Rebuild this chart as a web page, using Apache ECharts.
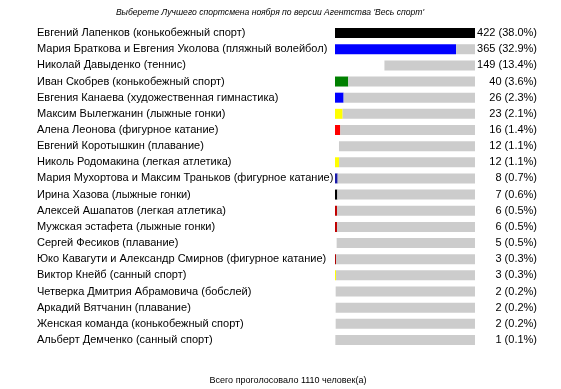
<!DOCTYPE html>
<html><head><meta charset="utf-8">
<script src="https://cdn.jsdelivr.net/npm/echarts@6/dist/echarts.min.js"></script>
<style>html,body{margin:0;padding:0;background:#fff}#c{width:561px;height:389px}</style>
</head><body><div id="c"></div>
<script>
const names = [
"Евгений Лапенков (конькобежный спорт)",
"Мария Браткова и Евгения Уколова (пляжный волейбол)",
"Николай Давыденко (теннис)",
"Иван Скобрев (конькобежный спорт)",
"Евгения Канаева (художественная гимнастика)",
"Максим Вылегжанин (лыжные гонки)",
"Алена Леонова (фигурное катание)",
"Евгений Коротышкин (плавание)",
"Николь Родомакина (легкая атлетика)",
"Мария Мухортова и Максим Траньков (фигурное катание)",
"Ирина Хазова (лыжные гонки)",
"Алексей Ашапатов (легкая атлетика)",
"Мужская эстафета (лыжные гонки)",
"Сергей Фесиков (плавание)",
"Юко Кавагути и Александр Смирнов (фигурное катание)",
"Виктор Кнейб (санный спорт)",
"Четверка Дмитрия Абрамовича (бобслей)",
"Аркадий Вятчанин (плавание)",
"Женская команда (конькобежный спорт)",
"Альберт Демченко (санный спорт)"
];
const votes = [422,365,149,40,26,23,16,12,12,8,7,6,6,5,3,3,2,2,2,1];
const percents = ["38.0","32.9","13.4","3.6","2.3","2.1","1.4","1.1","1.1","0.7","0.6","0.5","0.5","0.5","0.3","0.3","0.2","0.2","0.2","0.1"];
const barColors = ["#000000","#0000ff","#ffffff","#008000","#0000ff","#ffff00","#ff0000","#ffffff","#ffff00","#1a1aa8","#000000","#c00000","#c00000","#ffffff","#b00000","#ffff00","#ffffff","#ffffff","#ffffff","#ffffff"];
const titleText = "Выберете Лучшего спортсмена ноября по версии Агентства 'Весь спорт'";
const footerText = "Всего проголосовало 1110 человек(а)";

const maxVotes = Math.max(...votes);
const valueLabels = votes.map((v,i)=> v + " (" + percents[i] + "%)");

const chart = echarts.init(document.getElementById('c'), null, {renderer:'canvas'});
chart.setOption({
  animation:false,
  backgroundColor:'#ffffff',
  title:[
    {text:titleText, left:265, top:3, textAlign:'center',
     textStyle:{fontFamily:'Liberation Sans', fontSize:8.6, fontStyle:'italic', fontWeight:'normal', color:'#000'}},
    {text:footerText, left:283, top:371, textAlign:'center',
     textStyle:{fontFamily:'Liberation Sans', fontSize:9, fontWeight:'normal', color:'#000'}}
  ],
  grid:{left:335, top:25, width:140, height:323, containLabel:false},
  xAxis:{type:'value', min:0, max:maxVotes, show:false},
  yAxis:[
    {type:'category', data:names, inverse:true,
     axisLine:{show:false}, axisTick:{show:false}, splitLine:{show:false},
     axisLabel:{align:'left', margin:298, fontFamily:'Liberation Sans', fontSize:11, color:'#000'}},
    {type:'category', data:valueLabels, inverse:true, position:'right',
     axisLine:{show:false}, axisTick:{show:false}, splitLine:{show:false},
     axisLabel:{align:'right', margin:62, fontFamily:'Liberation Sans', fontSize:11, color:'#000'}}
  ],
  series:[
    {type:'bar', stack:'s', barWidth:10, silent:true,
     data:votes.map((v,i)=>({value:v, itemStyle:{color:barColors[i]}}))},
    {type:'bar', stack:'s', barWidth:10, silent:true,
     itemStyle:{color:'#cccccc'},
     data:votes.map(v=>maxVotes - v)}
  ]
});
</script>
</body></html>
